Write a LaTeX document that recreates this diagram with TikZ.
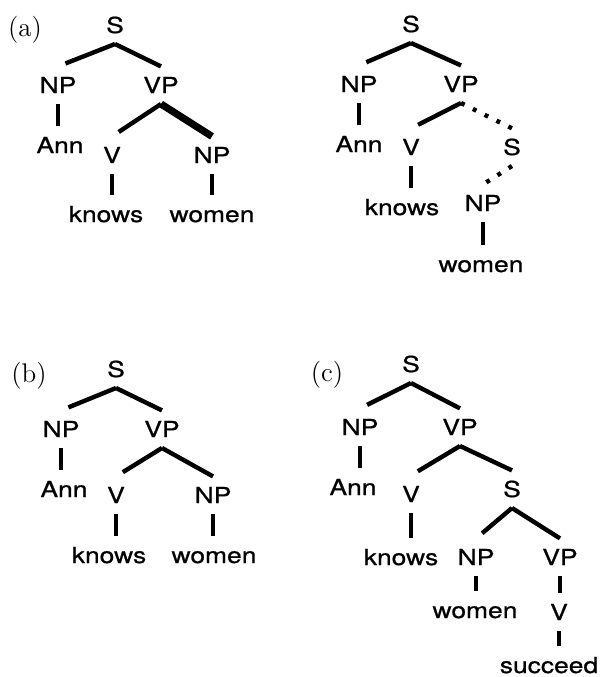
\documentclass[tikz,border=0pt]{standalone}
\usepackage{fontspec}
\newfontfamily\treefont{TeX Gyre Heros}[FakeStretch=1.2,FakeBold=0.8]

\begin{document}
\begin{tikzpicture}[x=0.5pt,y=-0.5pt,
    word/.style={anchor=base,font=\treefont\fontsize{11}{13}\selectfont,text height=7.8pt,text depth=0pt,inner xsep=1pt,inner ysep=5.3pt},
    tag/.style={anchor=base,font=\fontsize{13.5}{15}\selectfont,inner sep=0pt},
    branch/.style={line width=2.2pt},
    lbranch/.style={branch,shorten >=4pt},
    heavy/.style={line width=3.6pt},
    trace/.style={line width=2.2pt,dash pattern=on 2pt off 4.6pt}]
                \useasboundingbox (0,0) rectangle (600,677);
                \node[tag] (taga) at (25,36) {(a)};
                \node[word] (sa) at (115,33) {S};
                \node[word] (npa) at (58,93) {NP};
                \node[word] (vpa) at (161,93) {VP};
                \node[word] (anna) at (60,153) {Ann};
                \node[word] (va) at (112,163) {V};
                \node[word] (npb) at (212,163) {NP};
                \node[word] (knowsa) at (106,222) {knows};
                \node[word] (womena) at (212,222) {women};
                \draw[lbranch] (sa.south) -- (npa.north);
                \draw[branch] (sa.south) -- (vpa.north);
                \draw[branch] (npa.south) -- (npa.south |- anna.north);
                \draw[lbranch] (vpa.south) -- (va.north);
                \draw[heavy] (vpa.south) -- (npb.north);
                \draw[branch] (va.south) -- (va.south |- knowsa.north);
                \draw[branch] (npb.south) -- (npb.south |- womena.north);

                \node[word] (sd) at (411,32) {S};
                \node[word] (npd) at (359,92) {NP};
                \node[word] (vpd) at (461,92) {VP};
                \node[word] (annd) at (359,152) {Ann};
                \node[word] (vd) at (411,155) {V};
                \node[word] (se) at (512,155) {S};
                \node[word] (knowsd) at (402,215) {knows};
                \node[word] (npe) at (483,211) {NP};
                \node[word] (womend) at (481,272) {women};
                \draw[lbranch] (sd.south) -- (npd.north);
                \draw[branch] (sd.south) -- (vpd.north);
                \draw[branch] (npd.south) -- (npd.south |- annd.north);
                \draw[lbranch] (vpd.south) -- (vd.north);
                \draw[trace] (vpd.south) -- (se.north);
                \draw[trace] (se.south) -- (npe.north);
                \draw[branch] (vd.south) -- (vd.south |- knowsd.north);
                \draw[branch] (npe.south) -- (npe.south |- womend.north);

                \node[tag] (tagb) at (29,382) {(b)};
                \node[word] (sb) at (116,377) {S};
                \node[word] (npf) at (61,437) {NP};
                \node[word] (vpb) at (162,437) {VP};
                \node[word] (annb) at (64,497) {Ann};
                \node[word] (vb) at (116,503) {V};
                \node[word] (npg) at (213,503) {NP};
                \node[word] (knowsb) at (109,563) {knows};
                \node[word] (womenb) at (214,563) {women};
                \draw[lbranch] (sb.south) -- (npf.north);
                \draw[branch] (sb.south) -- (vpb.north);
                \draw[branch] (npf.south) -- (npf.south |- annb.north);
                \draw[lbranch] (vpb.south) -- (vb.north);
                \draw[branch] (vpb.south) -- (npg.north);
                \draw[branch] (vb.south) -- (vb.south |- knowsb.north);
                \draw[branch] (npg.south) -- (npg.south |- womenb.north);

                \node[tag] (tagc) at (327,381) {(c)};
                \node[word] (sc) at (411,372) {S};
                \node[word] (nph) at (360,435) {NP};
                \node[word] (vpc) at (460,435) {VP};
                \node[word] (annc) at (353,495) {Ann};
                \node[word] (vc) at (411,502) {V};
                \node[word] (sf) at (512,497) {S};
                \node[word] (knowsc) at (401,565) {knows};
                \node[word] (npi) at (476,565) {NP};
                \node[word] (vpf) at (560,565) {VP};
                \node[word] (womenc) at (475,618) {women};
                \node[word] (vf) at (559,620) {V};
                \node[word] (succ) at (549,673) {succeed};
                \draw[lbranch] (sc.south) -- (nph.north);
                \draw[branch] (sc.south) -- (vpc.north);
                \draw[branch] (nph.south) -- (nph.south |- annc.north);
                \draw[lbranch] (vpc.south) -- (vc.north);
                \draw[branch] (vpc.south) -- (sf.north);
                \draw[branch] (vc.south) -- (vc.south |- knowsc.north);
                \draw[lbranch] (sf.south) -- (npi.north);
                \draw[branch] (sf.south) -- (vpf.north);
                \draw[branch] (npi.south) -- (npi.south |- womenc.north);
                \draw[branch] (vpf.south) -- (vpf.south |- vf.north);
                \draw[branch] (vf.south) -- (vf.south |- succ.north);
            \end{tikzpicture}
\end{document}
